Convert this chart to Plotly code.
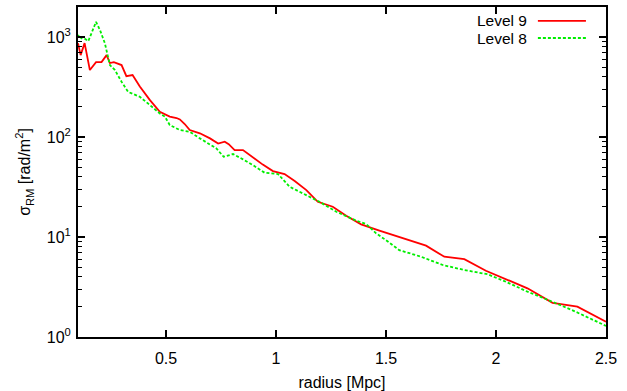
import plotly.graph_objects as go

r9 = [0.100, 0.112, 0.130, 0.154, 0.182, 0.207, 0.230, 0.245, 0.263, 0.298, 0.320, 0.348,
      0.381, 0.410, 0.427, 0.472, 0.495, 0.517, 0.548, 0.563, 0.585, 0.608, 0.654, 0.700,
      0.737, 0.767, 0.785, 0.812, 0.850, 0.895, 0.940, 0.986, 1.039, 1.085, 1.138, 1.190,
      1.258, 1.319, 1.387, 1.470, 1.531, 1.606, 1.682, 1.765, 1.856, 1.954, 2.045, 2.143,
      2.257, 2.370, 2.500]
s9 = [870, 660, 870, 468, 562, 562, 660, 550, 562, 525, 407, 417,
      320, 260, 234, 179, 168, 160, 155, 150, 135, 117.5, 109, 97,
      86, 90, 85, 74, 74, 62, 53, 45.7, 42.7, 36.3, 29.5, 22.5,
      20.1, 16.3, 13.4, 11.6, 10.5, 9.2, 8.2, 6.35, 6.0, 4.6, 3.8, 3.07,
      2.2, 2.01, 1.42]

r8 = [0.100, 0.112, 0.120, 0.147, 0.182, 0.200, 0.222, 0.245, 0.268, 0.298, 0.328, 0.366,
      0.381, 0.427, 0.472, 0.495, 0.517, 0.563, 0.608, 0.654, 0.700, 0.729, 0.762, 0.805,
      0.850, 0.895, 0.948, 1.009, 1.062, 1.107, 1.153, 1.198, 1.274, 1.364, 1.410, 1.455,
      1.500, 1.560, 1.660, 1.758, 1.856, 1.962, 2.045, 2.143, 2.257, 2.362, 2.500]
s8 = [1047, 955, 1000, 912, 1420, 1175, 870, 525, 468, 357, 283, 263,
      253, 209, 172, 160, 132, 117.5, 113, 97, 85, 77, 63.5, 67.6,
      59.8, 52.5, 44, 42.7, 31.8, 28.4, 25.3, 22.5, 17.9, 14.6, 13.5, 10.9,
      9.3, 7.4, 6.35, 5.25, 4.68, 4.24, 3.57, 2.84, 2.25, 1.79, 1.29]

series_names = ["Level 9", "Level 8"]
xticks = [0.5, 1, 1.5, 2, 2.5]
xticklabels = ["0.5", "1", "1.5", "2", "2.5"]
yticks = [1, 10, 100, 1000]
yticklabels = ["10<sup>0</sup>", "10<sup>1</sup>", "10<sup>2</sup>", "10<sup>3</sup>"]
yminor = [m * 10 ** e for e in range(0, 4) for m in range(2, 10) if m * 10 ** e <= 2000]

FAM = "Liberation Sans, Arial, Helvetica, sans-serif"
font = dict(family=FAM, size=16, color="black")
legfont = dict(family=FAM, size=15.5, color="black")
colors = ["#ff0000", "#00ee00"]
dashes = ["solid", "3px,2px"]

fig = go.Figure()
fig.add_trace(go.Scatter(x=r9, y=s9, mode="lines", name=series_names[0],
                         line=dict(color=colors[0], width=1.8), showlegend=False))
fig.add_trace(go.Scatter(x=r8, y=s8, mode="lines", name=series_names[1],
                         line=dict(color=colors[1], width=1.8, dash=dashes[1]),
                         showlegend=False))

# legend drawn gnuplot-style: text on the left, sample line on the right
leg_y = [0.958, 0.906]
for i, name in enumerate(series_names):
    fig.add_annotation(x=0.853, y=leg_y[i], xref="paper", yref="paper",
                       text=name, showarrow=False, xanchor="right", yanchor="middle",
                       font=legfont, borderpad=0)
    fig.add_shape(type="line", xref="paper", yref="paper",
                  x0=0.871, x1=0.962, y0=leg_y[i], y1=leg_y[i],
                  line=dict(color=colors[i], width=1.8, dash=dashes[i]))

fig.update_layout(
    width=627, height=391,
    margin=dict(l=78, r=21, t=7, b=54),
    paper_bgcolor="white", plot_bgcolor="white",
    font=font,
    showlegend=False,
    xaxis=dict(range=[0.1, 2.5], tickvals=xticks, ticktext=xticklabels,
               showgrid=False, zeroline=False, showline=True, linecolor="black",
               linewidth=2, mirror="allticks", ticks="inside", ticklen=7,
               tickcolor="black", tickwidth=1.5, tickfont=font, ticklabelstandoff=6,
               automargin=False,
               title=dict(text="radius [Mpc]", standoff=12, font=font)),
    yaxis=dict(type="log", range=[0, 3.301], tickvals=yticks, ticktext=yticklabels,
               showgrid=False, zeroline=False, showline=True, linecolor="black",
               linewidth=2, mirror="allticks", ticks="inside", ticklen=7,
               tickcolor="black", tickwidth=1.5, tickfont=font, ticklabelstandoff=2,
               automargin=False,
               minor=dict(tickmode="array", tickvals=yminor, ticks="inside", ticklen=4,
                          tickcolor="black", tickwidth=1, showgrid=False),
               title=dict(text="σ<sub>RM</sub> [rad/m<sup>2</sup>]", standoff=12, font=font)),
)

fig.write_html("out.html")
